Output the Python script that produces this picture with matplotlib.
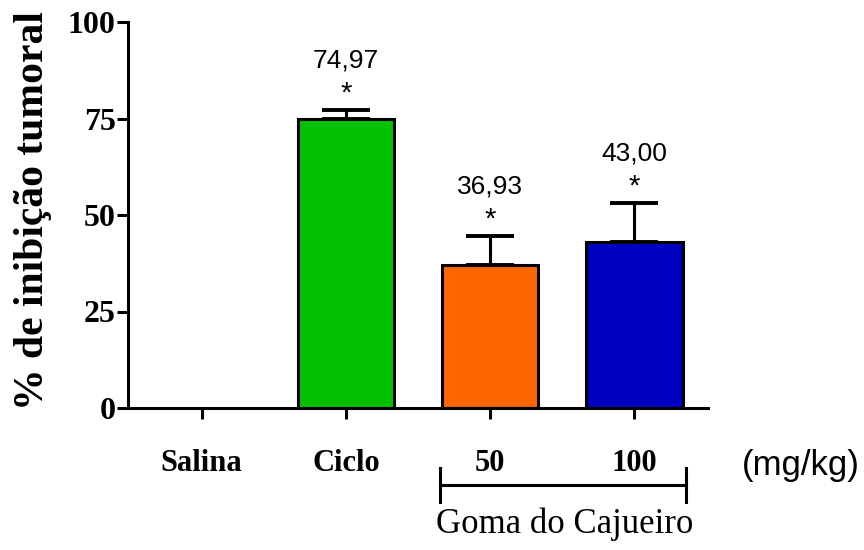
import numpy as np
import matplotlib
matplotlib.use("Agg")
import matplotlib.pyplot as plt

# data
groups = ["Salina", "Ciclo", "50", "100"]
inhibition = [0.0, 74.97, 36.93, 43.00]
sem = [0.0, 2.3, 7.7, 10.2]
value_labels = ["", "74,97", "36,93", "43,00"]
bar_colors = ["white", "#00C000", "#FF6600", "#0000C0"]

fig = plt.figure(figsize=(8.64, 5.5), dpi=100)
ax = fig.add_axes([128 / 864, 1 - 408 / 550, (708 - 128) / 864, (408 - 22) / 550])

x = np.arange(len(groups))
lw = 2.2
ax.bar(x[1:], inhibition[1:], width=0.67, color=bar_colors[1:], edgecolor="black",
       linewidth=lw, zorder=2)
ax.errorbar(x[1:], inhibition[1:], yerr=[np.zeros(3), sem[1:]], fmt="none",
            ecolor="black", elinewidth=lw, capsize=17, capthick=lw + 0.6, zorder=1)

for xi, v, e, lab in zip(x, inhibition, sem, value_labels):
    if not lab:
        continue
    top = v + e
    ax.text(xi, top + 2.0, "*", ha="center", va="baseline", fontsize=21,
            family="Liberation Sans")
    ax.text(xi, top + 11.0, lab, ha="center", va="baseline", fontsize=19,
            family="Liberation Sans")

ax.set_xlim(-0.51, 3.51)
ax.set_ylim(0, 100)
ax.set_yticks([0, 25, 50, 75, 100])
ax.set_xticks(x)
ax.set_xticklabels([])
for s in ["top", "right"]:
    ax.spines[s].set_visible(False)
for s in ["left", "bottom"]:
    ax.spines[s].set_linewidth(lw)
ax.tick_params(axis="both", direction="out", width=lw, length=8)
ax.tick_params(axis="y", pad=1)
for t in ax.get_yticklabels():
    t.set_fontfamily("Liberation Serif")
    t.set_fontweight("bold")
    t.set_fontsize(23)

fig.text(33 / 864, 1 - 211 / 550, "% de inibição tumoral", rotation=90,
         ha="center", va="center", fontfamily="Liberation Serif",
         fontweight="bold", fontsize=30)

# category labels under the axis
lab_y = -14.5
for xi, g in zip(x, groups):
    ax.text(xi, lab_y, g, ha="center", va="center", fontsize=22,
            fontfamily="Liberation Serif", fontweight="bold", clip_on=False)
ax.text(4.15, -15.0, "(mg/kg)", ha="center", va="center", fontsize=25,
        fontfamily="Liberation Sans", clip_on=False)

# bracket for Goma do Cajueiro
br_y = -20
ax.plot([1.655, 3.36], [br_y, br_y], color="black", lw=lw, clip_on=False)
ax.plot([1.655, 1.655], [br_y - 4.4, br_y + 4.4], color="black", lw=lw, clip_on=False)
ax.plot([3.36, 3.36], [br_y - 4.4, br_y + 4.4], color="black", lw=lw, clip_on=False)
ax.text(2.515, -30, "Goma do Cajueiro", ha="center", va="center", fontsize=25,
        fontfamily="Liberation Serif", clip_on=False)

fig.savefig("out.png", dpi=100)
